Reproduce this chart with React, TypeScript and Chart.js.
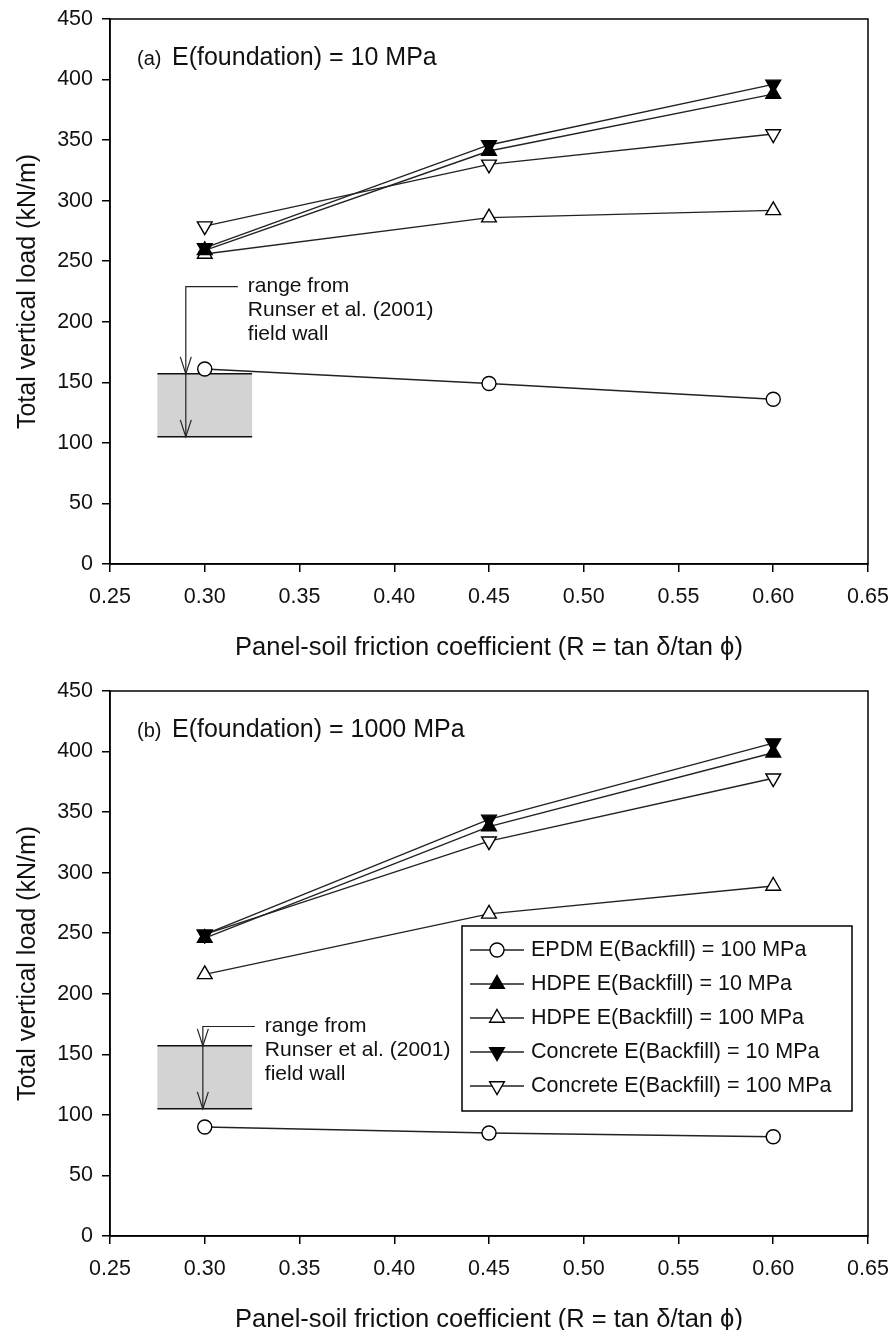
import React, { useEffect, useRef } from "react";
import { Chart, registerables } from "chart.js";

Chart.register(...registerables);

const FONT = "'Liberation Sans', Arial, Helvetica, sans-serif";
const INK = "#111";

// Panel-soil friction coefficient R used in the analyses
const frictionR = [0.3, 0.45, 0.6];
const xTicks = [0.25, 0.3, 0.35, 0.4, 0.45, 0.5, 0.55, 0.6, 0.65];
const yTicks = [0, 50, 100, 150, 200, 250, 300, 350, 400, 450];

const seriesLabels = [
  "EPDM E(Backfill) = 100 MPa",
  "HDPE E(Backfill) = 10 MPa",
  "HDPE E(Backfill) = 100 MPa",
  "Concrete E(Backfill) = 10 MPa",
  "Concrete E(Backfill) = 100 MPa",
];

// (a) E(foundation) = 10 MPa — total vertical load, kN/m
const epdm100A = [161, 149, 136];
const hdpe10A = [259, 341, 388];
const hdpe100A = [256, 286, 292];
const concrete10A = [261, 346, 396];
const concrete100A = [279, 330, 355];

// (b) E(foundation) = 1000 MPa — total vertical load, kN/m
const epdm100B = [90, 85, 82];
const hdpe10B = [246, 338, 399];
const hdpe100B = [216, 266, 289];
const concrete10B = [249, 344, 407];
const concrete100B = [249, 326, 378];

// Measured range from the Runser et al. (2001) field wall
const fieldRangeLoad = [105, 157];
const fieldRangeR = [0.275, 0.325];
const fieldNote = ["range from", "Runser et al. (2001)", "field wall"];

const markers = [
  { style: "circle", rotation: 0, filled: false, radius: 7 },
  { style: "triangle", rotation: 0, filled: true, radius: 8.5 },
  { style: "triangle", rotation: 0, filled: false, radius: 8.5 },
  { style: "triangle", rotation: 180, filled: true, radius: 8.5 },
  { style: "triangle", rotation: 180, filled: false, radius: 8.5 },
];

function drawMarker(ctx: CanvasRenderingContext2D, i: number, x: number, y: number) {
  const m = markers[i];
  ctx.save();
  ctx.lineWidth = 1.4;
  ctx.strokeStyle = "#000";
  ctx.fillStyle = m.filled ? "#000" : "#fff";
  ctx.beginPath();
  if (m.style === "circle") {
    ctx.arc(x, y, m.radius, 0, Math.PI * 2);
  } else {
    let rad = (m.rotation * Math.PI) / 180;
    for (let k = 0; k < 3; k++) {
      const px = x + Math.sin(rad) * m.radius;
      const py = y - Math.cos(rad) * m.radius;
      if (k === 0) ctx.moveTo(px, py);
      else ctx.lineTo(px, py);
      rad += (2 * Math.PI) / 3;
    }
    ctx.closePath();
  }
  ctx.fill();
  ctx.stroke();
  ctx.restore();
}

const panelDecor = {
  id: "panelDecor",
  beforeDatasetsDraw(chart: any, _args: any, opts: any) {
    const { ctx } = chart;
    const xs = chart.scales.x;
    const ys = chart.scales.y;
    const x0 = xs.getPixelForValue(fieldRangeR[0]);
    const x1 = xs.getPixelForValue(fieldRangeR[1]);
    const yTop = ys.getPixelForValue(fieldRangeLoad[1]);
    const yBot = ys.getPixelForValue(fieldRangeLoad[0]);
    ctx.save();
    ctx.fillStyle = "#d3d3d3";
    ctx.fillRect(x0, yTop, x1 - x0, yBot - yTop);
    ctx.strokeStyle = "#111";
    ctx.lineWidth = 1.5;
    ctx.beginPath();
    ctx.moveTo(x0, yTop);
    ctx.lineTo(x1, yTop);
    ctx.moveTo(x0, yBot);
    ctx.lineTo(x1, yBot);
    ctx.stroke();

    // leader arrow pointing into the range
    const xa = xs.getPixelForValue(opts.arrowR);
    const ye = ys.getPixelForValue(opts.elbowLoad);
    ctx.strokeStyle = "#222";
    ctx.lineWidth = 1.2;
    ctx.beginPath();
    ctx.moveTo(xa + 52, ye);
    ctx.lineTo(xa, ye);
    ctx.lineTo(xa, yBot);
    ctx.stroke();
    for (const tip of [yTop, yBot]) {
      ctx.beginPath();
      ctx.moveTo(xa - 5.5, tip - 17);
      ctx.lineTo(xa, tip);
      ctx.lineTo(xa + 5.5, tip - 17);
      ctx.stroke();
    }
    ctx.fillStyle = INK;
    ctx.font = `21px ${FONT}`;
    ctx.textAlign = "left";
    ctx.textBaseline = "middle";
    fieldNote.forEach((t, i) => ctx.fillText(t, xa + 62, ye + i * 24));
    ctx.restore();
  },
  afterDraw(chart: any, _args: any, opts: any) {
    const { ctx, chartArea } = chart;
    const { left, right, top, bottom } = chartArea;
    ctx.save();
    // plot frame
    ctx.strokeStyle = "#000";
    ctx.lineWidth = 1.5;
    ctx.strokeRect(left, top, right - left, bottom - top);

    // panel heading
    ctx.fillStyle = INK;
    ctx.textAlign = "left";
    ctx.textBaseline = "alphabetic";
    ctx.font = `20px ${FONT}`;
    ctx.fillText(opts.panel, left + 27, top + 46);
    ctx.font = `25px ${FONT}`;
    ctx.fillText(opts.heading, left + 62, top + 46);

    // axis titles
    ctx.textAlign = "center";
    ctx.textBaseline = "middle";
    ctx.font = `25.5px ${FONT}`;
    ctx.fillText(
      "Panel-soil friction coefficient (R = tan \u03B4/tan \u03D5)",
      (left + right) / 2,
      bottom + 84
    );
    ctx.save();
    ctx.translate(28, (top + bottom) / 2);
    ctx.rotate(-Math.PI / 2);
    ctx.font = `25px ${FONT}`;
    ctx.fillText("Total vertical load (kN/m)", 0, 0);
    ctx.restore();

    // legend
    if (opts.legend) {
      const lx = left + 352;
      const lw = right - 16 - lx;
      const ly = top + 235;
      const rowH = 34;
      const lh = 185;
      ctx.fillStyle = "#fff";
      ctx.fillRect(lx, ly, lw, lh);
      ctx.strokeStyle = "#000";
      ctx.lineWidth = 1.5;
      ctx.strokeRect(lx, ly, lw, lh);
      ctx.font = `21.5px ${FONT}`;
      ctx.textAlign = "left";
      ctx.textBaseline = "middle";
      seriesLabels.forEach((label, i) => {
        const cy = ly + 24 + i * rowH;
        ctx.strokeStyle = "#222";
        ctx.lineWidth = 1.4;
        ctx.beginPath();
        ctx.moveTo(lx + 8, cy);
        ctx.lineTo(lx + 62, cy);
        ctx.stroke();
        drawMarker(ctx, i, lx + 35, cy);
        ctx.fillStyle = INK;
        ctx.fillText(label, lx + 69, cy);
      });
    }
    ctx.restore();
  },
};

function buildConfig(series: number[][], deco: any, xAxisHeight: number): any {
  return {
    type: "line",
    data: {
      datasets: series.map((vals, i) => ({
        label: seriesLabels[i],
        data: frictionR.map((r, j) => ({ x: r, y: vals[j] })),
        borderColor: "#222",
        borderWidth: 1.4,
        pointStyle: markers[i].style,
        pointRotation: markers[i].rotation,
        pointRadius: markers[i].radius,
        pointHoverRadius: markers[i].radius,
        pointBackgroundColor: markers[i].filled ? "#000" : "#fff",
        pointBorderColor: "#000",
        pointBorderWidth: 1.4,
        fill: false,
        tension: 0,
      })),
    },
    options: {
      responsive: false,
      animation: false,
      devicePixelRatio: 1,
      events: [],
      layout: { padding: { top: 19, right: 23, left: 0, bottom: 0 } },
      plugins: {
        legend: { display: false },
        tooltip: { enabled: false },
        panelDecor: deco,
      },
      scales: {
        x: {
          type: "linear",
          min: 0.25,
          max: 0.65,
          afterBuildTicks: (s: any) => {
            s.ticks = xTicks.map((v) => ({ value: v }));
          },
          afterFit: (s: any) => {
            s.height = xAxisHeight;
            s.paddingLeft = 0;
            s.paddingRight = 0;
          },
          ticks: {
            autoSkip: false,
            maxRotation: 0,
            padding: 12,
            color: INK,
            font: { family: FONT, size: 21.5 },
            callback: (v: any) => Number(v).toFixed(2),
          },
          grid: {
            drawOnChartArea: false,
            drawTicks: true,
            tickLength: 8,
            color: "#000",
            lineWidth: 1.5,
          },
          border: { display: true, color: "#000", width: 1.5 },
        },
        y: {
          type: "linear",
          min: 0,
          max: 450,
          afterBuildTicks: (s: any) => {
            s.ticks = yTicks.map((v) => ({ value: v }));
          },
          afterFit: (s: any) => {
            s.width = 110;
            s.paddingTop = 0;
            s.paddingBottom = 0;
          },
          ticks: {
            padding: 9,
            color: INK,
            font: { family: FONT, size: 21.5 },
          },
          grid: {
            drawOnChartArea: false,
            drawTicks: true,
            tickLength: 8,
            color: "#000",
            lineWidth: 1.5,
          },
          border: { display: true, color: "#000", width: 1.5 },
        },
      },
    },
    plugins: [panelDecor],
  };
}

function Panel(props: { series: number[][]; deco: any; height: number; xAxisHeight: number; top: number }) {
  const ref = useRef<HTMLCanvasElement | null>(null);
  useEffect(() => {
    if (!ref.current) return;
    const chart = new Chart(ref.current, buildConfig(props.series, props.deco, props.xAxisHeight));
    return () => chart.destroy();
  }, []);
  return (
    <canvas
      ref={ref}
      width={891}
      height={props.height}
      style={{ position: "absolute", left: 0, top: props.top, width: 891, height: props.height }}
    />
  );
}

export default function App() {
  return (
    <div style={{ position: "absolute", left: 0, top: 0, width: 891, height: 1330, background: "#fff" }}>
      <Panel
        top={0}
        height={670}
        xAxisHeight={106}
        series={[epdm100A, hdpe10A, hdpe100A, concrete10A, concrete100A]}
        deco={{ panel: "(a)", heading: "E(foundation) = 10 MPa", arrowR: 0.29, elbowLoad: 229, legend: false }}
      />
      <Panel
        top={672}
        height={658}
        xAxisHeight={94}
        series={[epdm100B, hdpe10B, hdpe100B, concrete10B, concrete100B]}
        deco={{ panel: "(b)", heading: "E(foundation) = 1000 MPa", arrowR: 0.299, elbowLoad: 173, legend: true }}
      />
    </div>
  );
}
